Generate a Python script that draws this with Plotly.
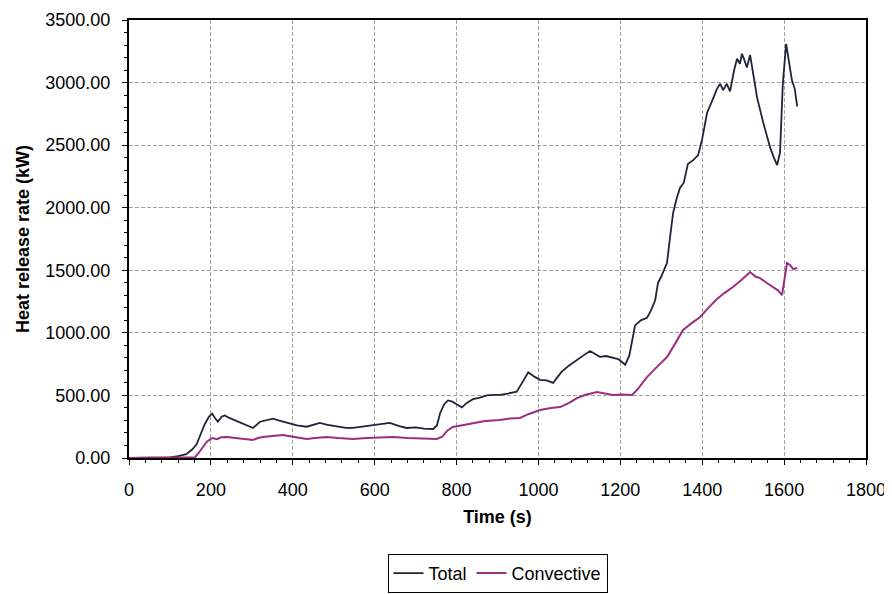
import plotly.graph_objects as go

total_t = [0,50,100,120,140,155,165,175,185,195,203,210,217,226,234,245,260,280,295,303,320,335,352,365,385,410,434,450,466,485,507,530,547,570,596,615,637,660,678,700,720,743,752,760,770,779,790,800,813,825,840,855,874,890,906,925,947,960,975,990,1004,1020,1036,1045,1057,1075,1094,1110,1126,1138,1150,1165,1180,1195,1212,1222,1236,1250,1265,1275,1285,1292,1300,1314,1322,1329,1338,1346,1355,1365,1378,1390,1400,1412,1425,1436,1444,1451,1460,1468,1478,1485,1492,1497,1503,1509,1517,1525,1534,1549,1566,1575,1583,1590,1597,1605,1612,1619,1626,1632]
total_v = [0,2,5,15,30,70,110,190,270,330,355,320,290,330,340,320,300,275,255,240,290,300,315,300,280,260,250,265,280,265,250,240,240,250,262,265,280,255,240,245,235,232,260,360,430,460,450,430,405,440,470,480,500,505,505,515,530,600,685,650,625,620,600,640,690,740,780,820,855,830,808,815,800,790,745,820,1060,1100,1120,1180,1260,1400,1450,1560,1780,1960,2080,2160,2200,2350,2380,2420,2550,2760,2860,2950,2990,2940,2990,2930,3100,3190,3150,3230,3180,3120,3220,3050,2880,2680,2480,2400,2340,2440,3000,3310,3150,3020,2950,2810]

conv_t = [0,100,150,161,170,180,190,203,215,225,239,260,280,303,315,327,350,376,400,420,434,455,483,510,547,580,610,645,680,720,752,765,778,791,810,840,870,906,930,955,975,1004,1030,1053,1075,1094,1115,1143,1160,1182,1205,1229,1245,1265,1290,1314,1335,1353,1375,1395,1415,1436,1455,1475,1495,1517,1530,1541,1557,1573,1585,1595,1601,1607,1615,1622,1632]
conv_v = [0,2,3,5,40,90,130,160,150,165,168,160,150,144,160,168,175,184,170,160,152,160,168,160,152,160,165,168,160,155,152,170,220,248,260,280,295,304,315,320,350,384,400,407,440,479,505,527,515,503,508,503,560,647,730,807,920,1023,1080,1127,1200,1270,1320,1366,1420,1486,1450,1438,1400,1366,1340,1302,1450,1558,1540,1510,1518]

x_ticks = [0,200,400,600,800,1000,1200,1400,1600,1800]
y_ticks = [0,500,1000,1500,2000,2500,3000,3500]
y_labels = [f"{v:.2f}" for v in y_ticks]

font = "Liberation Sans, Arial, sans-serif"
grid = dict(showgrid=True, gridcolor="#a0a0a0", gridwidth=1, griddash="4px,2px")

fig = go.Figure()
fig.add_trace(go.Scatter(x=total_t, y=total_v, mode="lines", name="Total",
                         line=dict(color="#1e2536", width=1.8)))
fig.add_trace(go.Scatter(x=conv_t, y=conv_v, mode="lines", name="Convective",
                         line=dict(color="#9a2f80", width=2)))

# page body has an 8px margin: figure is 884x586 so it fits the 892x594 window
fig.update_layout(
    width=884, height=586,
    margin=dict(l=121, r=26, t=12, b=136, autoexpand=False),
    paper_bgcolor="white", plot_bgcolor="white",
    font=dict(family=font, color="black", size=18),
    showlegend=True,
    legend=dict(orientation="h", x=0.5, xanchor="center", y=-0.219, yanchor="top",
                bordercolor="black", borderwidth=1, font=dict(size=18),
                tracegroupgap=0),
)
fig.update_xaxes(
    range=[0, 1800], tickvals=x_ticks, ticktext=[str(v) for v in x_ticks],
    tickfont=dict(size=18, family=font), ticklabeloverflow="allow",
    title=dict(text="<b>Time (s)</b>", font=dict(size=18), standoff=12),
    automargin=False,
    showline=True, linecolor="black", linewidth=2, mirror=True,
    ticks="outside", ticklen=5, tickcolor="black", ticklabelstandoff=9,
    minor=dict(dtick=40, ticks="outside", ticklen=3, tickcolor="black", showgrid=False),
    zeroline=False, **grid,
)
fig.update_yaxes(
    range=[0, 3500], tickvals=y_ticks, ticktext=y_labels,
    tickfont=dict(size=18, family=font), ticklabeloverflow="allow",
    title=dict(text="<b>Heat release rate (kW)</b>", font=dict(size=18), standoff=11),
    automargin=False,
    showline=True, linecolor="black", linewidth=2, mirror=True,
    ticks="outside", ticklen=5, tickcolor="black", ticklabelstandoff=8,
    minor=dict(dtick=100, ticks="outside", ticklen=3, tickcolor="black", showgrid=False),
    zeroline=False, **grid,
)

fig.write_html("out.html")
